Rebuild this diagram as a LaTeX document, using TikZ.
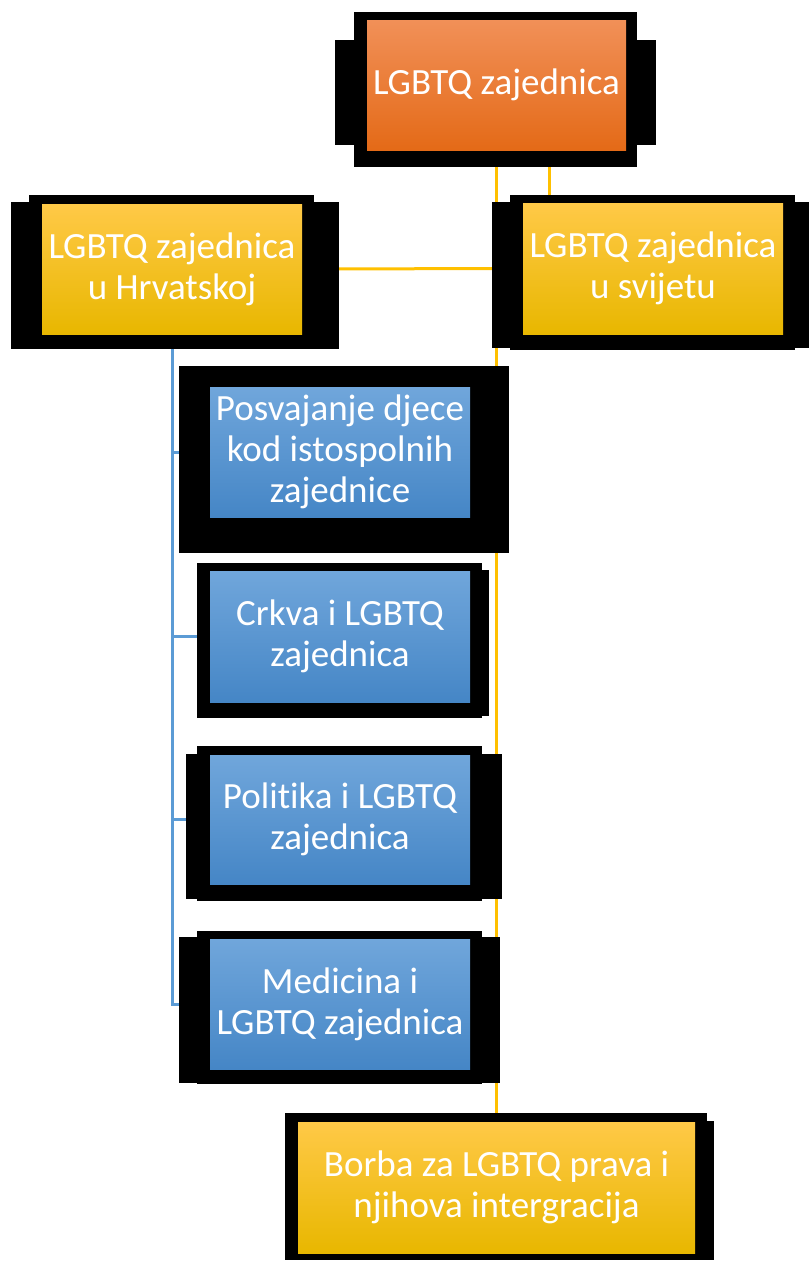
\documentclass[tikz,border=0pt]{standalone}
\usepackage{fontspec}
\setmainfont{Carlito}[Ligatures=NoCommon]
\usetikzlibrary{calc}
\pgfdeclarelayer{bg}
\pgfdeclarelayer{mid}
\pgfsetlayers{bg,mid,main}
\definecolor{orT}{HTML}{F19058}
\definecolor{orM}{HTML}{EE7B2E}
\definecolor{orB}{HTML}{E46A17}
\definecolor{yeT}{HTML}{FFC947}
\definecolor{yeM}{HTML}{FFC000}
\definecolor{yeB}{HTML}{E8B700}
\definecolor{blT}{HTML}{70A6DB}
\definecolor{blM}{HTML}{5699DA}
\definecolor{blB}{HTML}{4586C6}
\definecolor{yline}{HTML}{FFC000}
\definecolor{bline}{HTML}{5B9BD5}
\tikzset{
  x=1pt, y=-1pt,
  basebox/.style={inner sep=0pt, align=center, text=white,
    font=\fontsize{37}{41}\selectfont, minimum width=260pt, minimum height=130pt},
  orbox/.style={basebox, top color=orT, middle color=orM, bottom color=orB},
  yebox/.style={basebox, top color=yeT, middle color=yeM, bottom color=yeB},
  blbox/.style={basebox, top color=blT, middle color=blM, bottom color=blB},
  yconn/.style={draw=yline, line width=3pt},
  bconn/.style={draw=bline, line width=3pt},
  frame/.style={fill=black}
}
\begin{document}
\begin{tikzpicture}
\useasboundingbox (0,0) rectangle (809,1261);
% nodes
\node[orbox, minimum width=259pt] (top) at (496.5,85) {LGBTQ zajednica};
\node[yebox] (hr) at (172,269) {LGBTQ zajednica\\u Hrvatskoj};
\node[yebox, minimum height=131pt] (sv) at (653,268.5) {LGBTQ zajednica\\u svijetu};
\node[blbox] (pos) at (340,452) {Posvajanje djece\\kod istospolnih\\zajednice};
\node[blbox, minimum height=131pt] (crk) at (340,636.5) {Crkva i LGBTQ\\zajednica};
\node[blbox, minimum height=129pt] (pol) at (340,819.5) {Politika i LGBTQ\\zajednica};
\node[blbox] (med) at (340,1004) {Medicina i\\LGBTQ zajednica};
\node[yebox, minimum width=397pt, minimum height=131pt] (bor) at (496.5,1187.5) {Borba za LGBTQ prava i\\njihova intergracija};
\coordinate (svx) at (549,0);
% black frames
\begin{pgfonlayer}{mid}
\fill[frame] (354,12) rectangle (637,167);
\fill[frame] (335,40) rectangle (656,145);
\fill[frame] (29,195) rectangle (314,349);
\fill[frame] (11,202) rectangle (339,349);
\fill[frame] (510,195) rectangle (795,350);
\fill[frame] (492,202) rectangle (809,348);
\fill[frame] (179,366) rectangle (509,553);
\fill[frame] (197,563) rectangle (482,718);
\fill[frame] (197,570) rectangle (489,716);
\fill[frame] (197,746) rectangle (482,901);
\fill[frame] (186,754) rectangle (502,899);
\fill[frame] (197,931) rectangle (482,1084);
\fill[frame] (179,937) rectangle (500,1083);
\fill[frame] (285,1113) rectangle (707,1260);
\fill[frame] (285,1121) rectangle (714,1260);
\end{pgfonlayer}
% connectors
\begin{pgfonlayer}{bg}
\draw[yconn] (top.south) -- (bor.north);
\draw[yconn] (top.south -| svx) -- (sv.north -| svx);
\draw[yconn] (hr.east) -- (sv.west);
\draw[bconn] (hr.south) -- (med.west -| hr.south) -- (med.west);
\draw[bconn] (pos.west -| hr.south) -- (pos.west);
\draw[bconn] (crk.west -| hr.south) -- (crk.west);
\draw[bconn] (pol.west -| hr.south) -- (pol.west);
\end{pgfonlayer}
\end{tikzpicture}
\end{document}
